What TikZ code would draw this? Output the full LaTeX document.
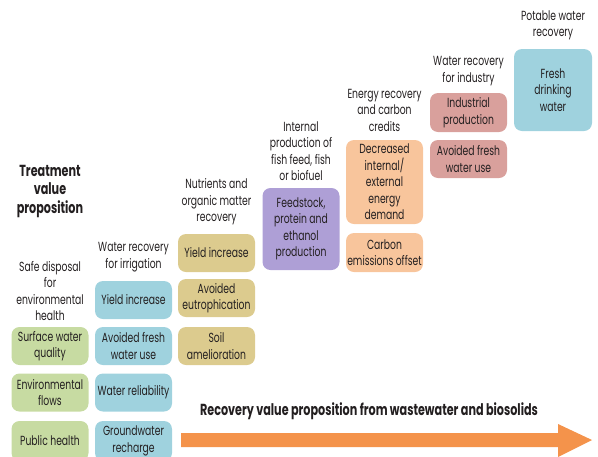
\documentclass[tikz,border=0pt]{standalone}
\usepackage{fontspec}
\setmainfont[FakeStretch=0.7]{Poppins}
\definecolor{cgreen}{HTML}{C7DBA2}
\definecolor{cblue}{HTML}{9FD2DE}
\definecolor{ctan}{HTML}{DCCB8E}
\definecolor{cpurple}{HTML}{AE9FD6}
\definecolor{cpeach}{HTML}{F8C59C}
\definecolor{crose}{HTML}{D9A09C}
\definecolor{corange}{HTML}{F4934B}
\definecolor{ctext}{HTML}{231F20}
\tikzset{
  txt/.style={align=center, inner sep=0pt, text=ctext, font=\fontsize{13.2}{16.5}\selectfont},
  hdr/.style={txt},
  boldhdr/.style={align=center, inner sep=0pt, text=ctext, font=\fontsize{16}{18.5}\selectfont\bfseries},
  box/.style={txt, rounded corners=8pt, minimum width=77pt, minimum height=38pt},
}
\begin{document}
\begin{tikzpicture}[x=1pt,y=-1pt]
\useasboundingbox (0,0) rectangle (598,456);
% headers
\node[boldhdr] (h0) at (50,191.5) {Treatment\\value\\proposition};
\node[hdr] (h1) at (50,291) {Safe disposal\\for\\environmental\\health};
\node[hdr] (h2) at (133.5,257) {Water recovery\\for irrigation};
\node[hdr] (h3) at (216.5,202) {Nutrients and\\organic matter\\recovery};
\node[hdr] (h4) at (301,151) {Internal\\production of\\fish feed, fish\\or biofuel};
\node[hdr] (h5) at (384.5,110) {Energy recovery\\and carbon\\credits};
\node[hdr] (h6) at (468.5,71) {Water recovery\\for industry};
\node[hdr] (h7) at (553,25.5) {Potable water\\recovery};
% column 1
\node[box, fill=cgreen] (a1) at (50,346) {Surface water\\quality};
\node[box, fill=cgreen] (a2) at (50,392.5) {Environmental\\flows};
\node[box, fill=cgreen, minimum height=40pt] (a3) at (50,441) {Public health};
% column 2
\node[box, fill=cblue] (b1) at (133.5,300) {Yield increase};
\node[box, fill=cblue] (b2) at (133.5,346) {Avoided fresh\\water use};
\node[box, fill=cblue] (b3) at (133.5,392.5) {Water reliability};
\node[box, fill=cblue, minimum height=40pt] (b4) at (133.5,441) {Groundwater\\recharge};
% column 3
\node[box, fill=ctan] (c1) at (216.5,253) {Yield increase};
\node[box, fill=ctan] (c2) at (216.5,298) {Avoided\\eutrophication};
\node[box, fill=ctan] (c3) at (216.5,346) {Soil\\amelioration};
% column 4
\node[box, fill=cpurple, minimum height=82pt] (d1) at (301,229) {Feedstock,\\protein and\\ethanol\\production};
% column 5
\node[box, fill=cpeach, minimum height=84pt] (e1) at (384.5,182) {Decreased\\internal/\\external\\energy\\demand};
\node[box, fill=cpeach, minimum height=39pt] (e2) at (384.5,252.5) {Carbon\\emissions offset};
% column 6
\node[box, fill=crose, minimum height=39pt] (f1) at (468.5,112.5) {Industrial\\production};
\node[box, fill=crose] (f2) at (468.5,159) {Avoided fresh\\water use};
% column 7
\node[box, fill=cblue, minimum width=78pt, minimum height=82pt] (g1) at (553,90) {Fresh\\drinking\\water};
% bottom arrow
\node[boldhdr] (arrtxt) at (369,411) {Recovery value proposition from wastewater and biosolids};
\fill[corange] (181,433) -- (558,433) -- (558,424) -- (592,440) -- (558,457) -- (558,447) -- (181,447) -- cycle;
\end{tikzpicture}
\end{document}
